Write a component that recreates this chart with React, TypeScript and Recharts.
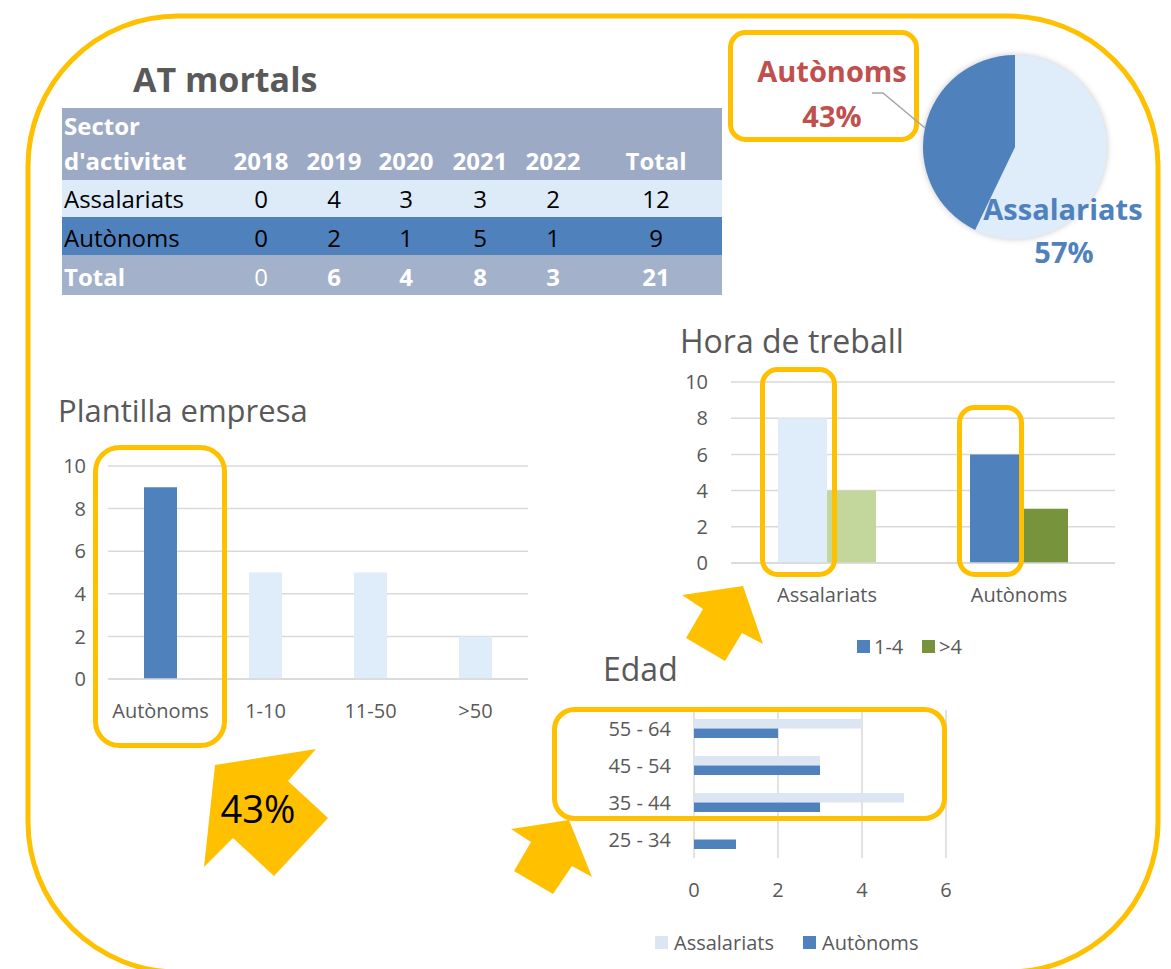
import React from 'react';
import { BarChart, Bar, XAxis, YAxis, CartesianGrid, Cell, PieChart, Pie } from 'recharts';

// ---------- data ----------
const tableYears = ['2018', '2019', '2020', '2021', '2022'];
const tableAssalariats = [0, 4, 3, 3, 2];
const tableAutonoms = [0, 2, 1, 5, 1];
const tableTotals = [0, 6, 4, 8, 3];
const tableRowTotals = [12, 9, 21];

const pieLabels = ['Assalariats', 'Autònoms'];
const pieValues = [12, 9];

const plantillaCats = ['Autònoms', '1-10', '11-50', '>50'];
const plantillaValues = [9, 5, 5, 2];

const horaCats = ['Assalariats', 'Autònoms'];
const horaSeriesNames = ['1-4', '>4'];
const hora14 = [8, 6];
const horaMore4 = [4, 3];

const edadCats = ['55 - 64', '45 - 54', '35 - 44', '25 - 34'];
const edadSeriesNames = ['Assalariats', 'Autònoms'];
const edadAssalariats = [4, 3, 5, 0];
const edadAutonoms = [2, 3, 3, 1];

// ---------- styles ----------
const ORANGE = '#FFC000';
const DARK = '#4F81BD';
const LIGHT = '#DFECF9';
const LIGHT_EDAD = '#DCE6F2';
const GREEN_LIGHT = '#C3D69B';
const GREEN = '#77933C';
const RED = '#C0504D';
const GRAY_TEXT = '#595959';
const GRID = '#D9D9D9';
const FONT = "'Open Sans', 'Noto Sans', sans-serif";

const tickStyle = { fill: GRAY_TEXT, fontSize: 20, fontFamily: FONT };

const plantillaData = plantillaCats.map((c, i) => ({ cat: c, v: plantillaValues[i] }));
const horaData = horaCats.map((c, i) => ({ cat: c, a: hora14[i], b: horaMore4[i] }));
const edadData = edadCats.map((c, i) => ({ cat: c, s: edadAssalariats[i], a: edadAutonoms[i] }));
const pieData = pieLabels.map((l, i) => ({ name: l, v: pieValues[i] }));
const pieTotal = pieValues.reduce((s, v) => s + v, 0);
const pct = (v: number) => `${Math.round((v / pieTotal) * 100)}%`;

const colCenters = [261, 334, 406, 480, 553];
const totalCol = 656;

export default function App() {
  return (
    <div
      style={{
        position: 'absolute',
        left: 0,
        top: 0,
        width: 1171,
        height: 969,
        overflow: 'hidden',
        background: '#fff',
        fontFamily: FONT,
      }}
    >
      {/* Plantilla empresa */}
      <div style={{ position: 'absolute', left: 38, top: 440 }}>
        <BarChart width={510} height={289} data={plantillaData} margin={{ top: 26, right: 20, bottom: 0, left: 0 }} barSize={33}>
          <CartesianGrid vertical={false} stroke={GRID} strokeWidth={1.5} />
          <XAxis dataKey="cat" axisLine={{ stroke: GRID, strokeWidth: 1.5 }} tickLine={false} tickSize={0} tickMargin={25} height={50} interval={0} tick={tickStyle} />
          <YAxis domain={[0, 10]} ticks={[0, 2, 4, 6, 8, 10]} axisLine={false} tickLine={false} tickSize={0} tickMargin={22} width={70} tick={tickStyle} />
          <Bar dataKey="v" isAnimationActive={false}>
            {plantillaData.map((d, i) => (
              <Cell key={i} fill={i === 0 ? DARK : LIGHT} />
            ))}
          </Bar>
        </BarChart>
      </div>

      {/* Hora de treball */}
      <div style={{ position: 'absolute', left: 661, top: 360 }}>
        <BarChart width={464} height={253} data={horaData} margin={{ top: 22, right: 10, bottom: 0, left: 0 }} barSize={49} barGap={0}>
          <CartesianGrid vertical={false} stroke={GRID} strokeWidth={1.5} />
          <XAxis dataKey="cat" axisLine={{ stroke: GRID, strokeWidth: 1.5 }} tickLine={false} tickSize={0} tickMargin={25} height={50} interval={0} tick={tickStyle} />
          <YAxis domain={[0, 10]} ticks={[0, 2, 4, 6, 8, 10]} axisLine={false} tickLine={false} tickSize={0} tickMargin={23} width={70} tick={tickStyle} />
          <Bar dataKey="a" name={horaSeriesNames[0]} isAnimationActive={false}>
            {horaData.map((d, i) => (
              <Cell key={i} fill={i === 0 ? LIGHT : DARK} />
            ))}
          </Bar>
          <Bar dataKey="b" name={horaSeriesNames[1]} isAnimationActive={false}>
            {horaData.map((d, i) => (
              <Cell key={i} fill={i === 0 ? GREEN_LIGHT : GREEN} />
            ))}
          </Bar>
        </BarChart>
      </div>

      {/* Edad */}
      <div style={{ position: 'absolute', left: 574, top: 690 }}>
        <BarChart layout="vertical" width={387} height={218} data={edadData} margin={{ top: 20, right: 15, bottom: 0, left: 0 }} barSize={9.5} barGap={0}>
          <CartesianGrid horizontal={false} stroke={GRID} strokeWidth={1.5} />
          <XAxis type="number" domain={[0, 6]} ticks={[0, 2, 4, 6]} axisLine={false} tickLine={false} tickSize={0} tickMargin={25} height={50} tick={tickStyle} />
          <YAxis type="category" dataKey="cat" axisLine={false} tickLine={false} tickSize={0} tickMargin={23} width={120} tick={tickStyle} />
          <Bar dataKey="s" name={edadSeriesNames[0]} fill={LIGHT_EDAD} isAnimationActive={false} />
          <Bar dataKey="a" name={edadSeriesNames[1]} fill={DARK} isAnimationActive={false} />
        </BarChart>
      </div>

      {/* Pie */}
      <div style={{ position: 'absolute', left: 915, top: 47, filter: 'drop-shadow(0px 0px 3px rgba(0,0,0,0.22))' }}>
        <PieChart width={200} height={200} margin={{ top: 0, right: 0, bottom: 0, left: 0 }}>
          <Pie data={pieData} dataKey="v" cx={100} cy={100} outerRadius={92} startAngle={90} endAngle={-270} stroke="none" isAnimationActive={false}>
            <Cell fill={LIGHT} />
            <Cell fill={DARK} />
          </Pie>
        </PieChart>
      </div>

      {/* overlay */}
      <svg width={1171} height={969} style={{ position: 'absolute', left: 0, top: 0, pointerEvents: 'none' }} fontFamily={FONT}>
        {/* frame */}
        <rect x={28} y={16} width={1130} height={956} rx={150} ry={150} fill="none" stroke={ORANGE} strokeWidth={5} />

        {/* title */}
        <text x={133} y={92} fontSize={34} fontWeight={700} fill={GRAY_TEXT}>AT mortals</text>

        {/* table */}
        <rect x={62} y={108} width={660} height={72} fill="#9DAAC5" />
        <rect x={62} y={180} width={660} height={37} fill="#DDEBF8" />
        <rect x={62} y={217} width={660} height={38} fill={DARK} />
        <rect x={62} y={255} width={660} height={40} fill="#A4B1CA" />
        <g fontSize={24} fontWeight={700} fill="#fff">
          <text x={64} y={135}>Sector</text>
          <text x={64} y={170}>d'activitat</text>
          {tableYears.map((y, i) => (
            <text key={y} x={colCenters[i]} y={170} textAnchor="middle">{y}</text>
          ))}
          <text x={totalCol} y={170} textAnchor="middle">Total</text>
        </g>
        <g fontSize={24} fill="#000">
          <text x={64} y={208}>Assalariats</text>
          {tableAssalariats.map((v, i) => (
            <text key={i} x={colCenters[i]} y={208} textAnchor="middle">{v}</text>
          ))}
          <text x={totalCol} y={208} textAnchor="middle">{tableRowTotals[0]}</text>
          <text x={64} y={247}>Autònoms</text>
          {tableAutonoms.map((v, i) => (
            <text key={i} x={colCenters[i]} y={247} textAnchor="middle">{v}</text>
          ))}
          <text x={totalCol} y={247} textAnchor="middle">{tableRowTotals[1]}</text>
        </g>
        <g fontSize={24} fill="#fff" fontWeight={700}>
          <text x={64} y={286}>Total</text>
          {tableTotals.map((v, i) => (
            <text key={i} x={colCenters[i]} y={286} textAnchor="middle" fontWeight={v === 0 ? 400 : 700}>{v}</text>
          ))}
          <text x={totalCol} y={286} textAnchor="middle">{tableRowTotals[2]}</text>
        </g>

        {/* pie labels */}
        <rect x={730.5} y={32.5} width={186} height={107} rx={15} ry={15} fill="none" stroke={ORANGE} strokeWidth={5} />
        <polyline points="872,93 883,93 925,128" fill="none" stroke="#A6A6A6" strokeWidth={1.5} />
        <g fontSize={29} fontWeight={700} textAnchor="middle">
          <text x={832} y={82} fill={RED}>{pieLabels[1]}</text>
          <text x={832} y={127} fill={RED}>{pct(pieValues[1])}</text>
          <text x={1063} y={220} fill={DARK}>{pieLabels[0]}</text>
          <text x={1064} y={263} fill={DARK}>{pct(pieValues[0])}</text>
        </g>

        {/* chart titles */}
        <g fill={GRAY_TEXT} fontSize={31}>
          <text x={58} y={422}>Plantilla empresa</text>
          <text x={680} y={353} fontSize={32}>Hora de treball</text>
          <text x={603} y={681} fontSize={32}>Edad</text>
        </g>

        {/* legends */}
        <g fontSize={20} fill={GRAY_TEXT}>
          <rect x={857} y={640} width={13} height={13} fill={DARK} />
          <text x={874} y={654}>{horaSeriesNames[0]}</text>
          <rect x={922} y={640} width={13} height={13} fill={GREEN} />
          <text x={939} y={654}>{horaSeriesNames[1]}</text>
          <rect x={655} y={936} width={13} height={13} fill={LIGHT_EDAD} />
          <text x={674} y={950}>{edadSeriesNames[0]}</text>
          <rect x={803} y={936} width={13} height={13} fill={DARK} />
          <text x={822} y={950}>{edadSeriesNames[1]}</text>
        </g>

        {/* highlight boxes */}
        <g fill="none" stroke={ORANGE} strokeWidth={5}>
          <rect x={95.5} y={447.5} width={129} height={298} rx={24} ry={24} />
          <rect x={762.5} y={369.5} width={72} height={205} rx={15} ry={15} />
          <rect x={959.5} y={407.5} width={62} height={167} rx={15} ry={15} />
          <rect x={554.5} y={709.5} width={390} height={109} rx={20} ry={20} />
        </g>

        {/* arrows */}
        <g fill={ORANGE}>
          <polygon points="215,765 316,749 288,781 328,818 274,876 233,838 204,867" />
          <polygon points="682,595 743,586 763,644 742,633 725,661 686,638 703,609" />
          <polygon points="511,829 569,820 592,877 572,866 553,894 514,871 531,842" />
        </g>
        <text x={258} y={823} fontSize={38} fill="#000" textAnchor="middle">{pct(pieValues[1])}</text>
      </svg>
    </div>
  );
}
